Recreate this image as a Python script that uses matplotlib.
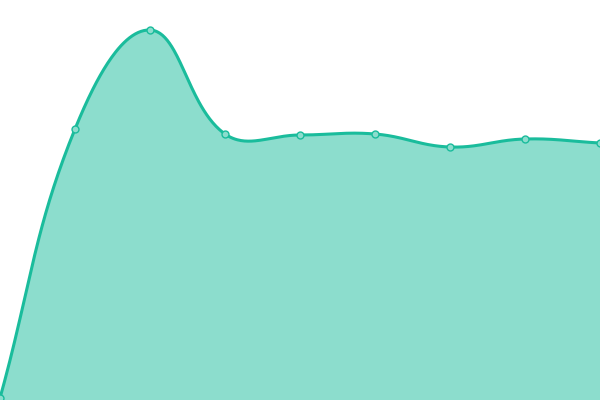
import numpy as np
import matplotlib
matplotlib.use("Agg")
import matplotlib.pyplot as plt

# point positions and heights
x_vals = [0, 75, 150, 225, 300, 375, 450, 525, 600]
y_vals = [2, 271, 370, 266, 265, 266, 253, 261, 257]

line_color = "#1abc9c"
fill_color = "#8cddcd"
tension = 0.4


def spline_points(xs, ys, t=0.4, steps=60):
    # cubic bezier through the points, control points like chart.js splineCurve
    pts = np.column_stack([xs, ys]).astype(float)
    n = len(pts)
    cps = []
    for i in range(n):
        cur = pts[i]
        prev = pts[i - 1] if i > 0 else cur
        nxt = pts[i + 1] if i < n - 1 else cur
        d01 = np.hypot(*(cur - prev))
        d12 = np.hypot(*(nxt - cur))
        tot = d01 + d12
        s01 = d01 / tot if tot else 0
        s12 = d12 / tot if tot else 0
        cps.append((cur - t * s01 * (nxt - prev), cur + t * s12 * (nxt - prev)))
    out = []
    tt = np.linspace(0, 1, steps)[:, None]
    for i in range(n - 1):
        p0, p3 = pts[i], pts[i + 1]
        p1, p2 = cps[i][1], cps[i + 1][0]
        seg = ((1 - tt) ** 3) * p0 + 3 * ((1 - tt) ** 2) * tt * p1 + 3 * (1 - tt) * tt ** 2 * p2 + tt ** 3 * p3
        out.append(seg if i == 0 else seg[1:])
    out = np.vstack(out)
    return out[:, 0], out[:, 1]


cx, cy = spline_points(x_vals, y_vals, tension)

fig = plt.figure(figsize=(6, 4), dpi=100)
ax = fig.add_axes([0, 0, 1, 1])
ax.fill_between(cx, cy, 0, color=fill_color, linewidth=0)
ax.plot(cx, cy, color=line_color, linewidth=2.2, solid_capstyle="round")
ax.plot(x_vals, y_vals, linestyle="none", marker="o", markersize=5,
        markerfacecolor=fill_color, markeredgecolor=line_color, markeredgewidth=1)
ax.set_xlim(0, 600)
ax.set_ylim(0, 400)
ax.axis("off")

fig.savefig("out.png", dpi=100)
